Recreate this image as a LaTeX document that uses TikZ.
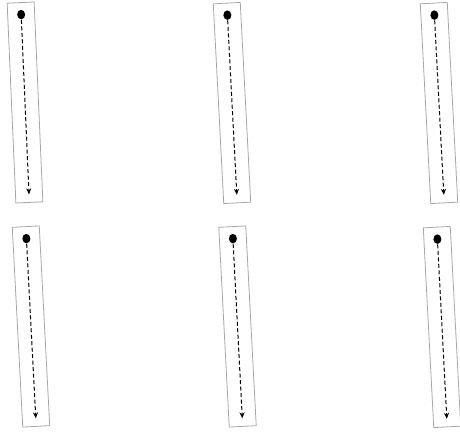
\documentclass[tikz,border=0pt]{standalone}
\usetikzlibrary{arrows.meta,calc,shapes.geometric}

\begin{document}
\begin{tikzpicture}[x=1pt,y=1pt,>={Stealth[length=6pt,width=5pt]},
  lane/.style={draw=black!35,line width=0.8pt,minimum width=27pt,minimum height=200pt,inner sep=0pt,outer sep=0pt},
  spot/.style={ellipse,fill=black,minimum width=8pt,minimum height=9.5pt,inner sep=0pt,outer sep=0.5pt},
  flow/.style={->,dashed,dash pattern=on 4pt off 2.5pt,line width=1pt}]
\useasboundingbox (0,0) rectangle (460,432);
% upper row
\node[lane,rotate=2.5] (lane1) at (25,329.5) {};
\node[spot,rotate=2.5] (spot1) at ($(lane1.center)!0.88!(lane1.north)$) {};
\coordinate (end1) at ($(lane1.center)!0.92!(lane1.south)$);
\draw[flow] (spot1) -- (end1);
\node[lane,rotate=3] (lane2) at (232,329) {};
\node[spot,rotate=3] (spot2) at ($(lane2.center)!0.88!(lane2.north)$) {};
\coordinate (end2) at ($(lane2.center)!0.92!(lane2.south)$);
\draw[flow] (spot2) -- (end2);
\node[lane,rotate=3] (lane3) at (439,329) {};
\node[spot,rotate=3] (spot3) at ($(lane3.center)!0.88!(lane3.north)$) {};
\coordinate (end3) at ($(lane3.center)!0.92!(lane3.south)$);
\draw[flow] (spot3) -- (end3);
% lower row
\node[lane,rotate=3] (lane4) at (31,105.5) {};
\node[spot,rotate=3] (spot4) at ($(lane4.center)!0.88!(lane4.north)$) {};
\coordinate (end4) at ($(lane4.center)!0.92!(lane4.south)$);
\draw[flow] (spot4) -- (end4);
\node[lane,rotate=3] (lane5) at (237.5,105.5) {};
\node[spot,rotate=3] (spot5) at ($(lane5.center)!0.88!(lane5.north)$) {};
\coordinate (end5) at ($(lane5.center)!0.92!(lane5.south)$);
\draw[flow] (spot5) -- (end5);
\node[lane,rotate=3] (lane6) at (442,105) {};
\node[spot,rotate=3] (spot6) at ($(lane6.center)!0.88!(lane6.north)$) {};
\coordinate (end6) at ($(lane6.center)!0.92!(lane6.south)$);
\draw[flow] (spot6) -- (end6);
\end{tikzpicture}
\end{document}
